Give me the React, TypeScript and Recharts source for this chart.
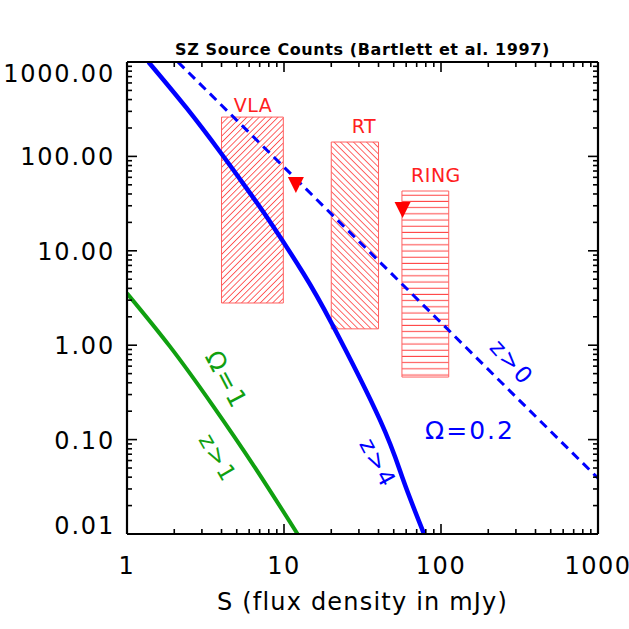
import React from "react";
import {
  ComposedChart,
  Line,
  Scatter,
  XAxis,
  YAxis,
  ReferenceArea,
  ReferenceDot,
} from "recharts";

// ---- data ----
const xMajorTicks = [1, 10, 100, 1000];
const xTickLabels = ["1", "10", "100", "1000"];
const yMajorTicks = [0.01, 0.1, 1, 10, 100, 1000];
const yTickLabels = ["0.01", "0.10", "1.00", "10.00", "100.00", "1000.00"];

// Omega = 0.2, solid curve
const solidX = [1.37, 2.4, 3.91, 5.78, 8.55, 13.27, 20.1, 40.9, 57.5, 78];
const solidY = [1000, 324, 112, 45.9, 18.0, 5.78, 1.71, 0.161, 0.0373, 0.01];
// Omega = 0.2, z>0 dashed
const dashedX = [2.11, 1000];
const dashedY = [1000, 0.039];
// Omega = 1, green
const greenX = [1, 1.88, 3.53, 6.54, 12.2];
const greenY = [3.55, 0.966, 0.228, 0.0505, 0.01];

// survey boxes
const boxNames = ["VLA", "RT", "RING"];
const boxX1 = [4, 20, 56.4];
const boxX2 = [9.9, 40, 112];
const boxY1 = [2.8, 1.49, 0.46];
const boxY2 = [261, 142, 43];

// upper-limit triangles
const triX = [11.9, 56.9];
const triY = [49.8, 27];

// annotations
const noteText = ["VLA", "RT", "RING", "\u03A9=0.2", "\u03A9=1", "z>1", "z>4", "z>0"];
const noteX = [6.35, 32.3, 92.9, 153, 4.3, 3.8, 39.7, 283];
const noteY = [351, 210, 63.6, 0.126, 0.43, 0.064, 0.0565, 0.66];

// ---- derived tables ----
const mk = (xs: number[], ys: number[]) => xs.map((x, i) => ({ x, y: ys[i] }));
const solidData = mk(solidX, solidY);
const dashedData = mk(dashedX, dashedY);
const greenData = mk(greenX, greenY);
const triData = mk(triX, triY);

const minors = (majors: number[]) => {
  const out: number[] = [];
  for (let i = 0; i < majors.length - 1; i++) {
    for (let k = 2; k <= 9; k++) out.push(+(majors[i] * k).toPrecision(6));
  }
  return out;
};
const xTicks = [...xMajorTicks, ...minors(xMajorTicks)].sort((a, b) => a - b);
const yTicks = [...yMajorTicks, ...minors(yMajorTicks)].sort((a, b) => a - b);

const noteStyle: Record<string, { color: string; size: number; rot: number; ls: number }> = {
  VLA: { color: "#ff2020", size: 19, rot: 0, ls: 0.5 },
  RT: { color: "#ff2020", size: 19, rot: 0, ls: 0.5 },
  RING: { color: "#ff2020", size: 19, rot: 0, ls: 0.5 },
  "\u03A9=0.2": { color: "#0000ff", size: 25, rot: 0, ls: 2 },
  "\u03A9=1": { color: "#10a010", size: 25, rot: 62, ls: 2 },
  "z>1": { color: "#10a010", size: 23, rot: 60, ls: 2 },
  "z>4": { color: "#0000ff", size: 23, rot: 62, ls: 2 },
  "z>0": { color: "#0000ff", size: 23, rot: 48, ls: 2 },
};

const FONT = "'DejaVu Sans', 'Liberation Sans', sans-serif";
const W = 629;
const H = 629;

const isMajorX = (v: number) => xMajorTicks.indexOf(v) >= 0;
const isMajorY = (v: number) => yMajorTicks.indexOf(v) >= 0;

const BottomTick = (p: any) => {
  const v = p.payload.value;
  const major = isMajorX(v);
  const idx = xMajorTicks.indexOf(v);
  return (
    <g>
      <line x1={p.x} x2={p.x} y1={p.y} y2={p.y - (major ? 10 : 5)} stroke="#000" strokeWidth={1.6} />
      {major && (
        <text x={p.x} y={p.y + 40} textAnchor="middle" fontFamily={FONT} fontSize={24} letterSpacing={1.5} fill="#000">
          {xTickLabels[idx]}
        </text>
      )}
    </g>
  );
};
const TopTick = (p: any) => {
  const major = isMajorX(p.payload.value);
  return <line x1={p.x} x2={p.x} y1={p.y} y2={p.y + (major ? 10 : 5)} stroke="#000" strokeWidth={1.6} />;
};
const LeftTick = (p: any) => {
  const v = p.payload.value;
  const major = isMajorY(v);
  const idx = yMajorTicks.indexOf(v);
  let dy = 9;
  if (idx === yMajorTicks.length - 1) dy = 20;
  if (idx === 0) dy = 0;
  return (
    <g>
      <line x1={p.x} x2={p.x + (major ? 10 : 5)} y1={p.y} y2={p.y} stroke="#000" strokeWidth={1.6} />
      {major && (
        <text x={p.x - 12} y={p.y + dy} textAnchor="end" fontFamily={FONT} fontSize={24} letterSpacing={1.8} fill="#000">
          {yTickLabels[idx]}
        </text>
      )}
    </g>
  );
};
const RightTick = (p: any) => {
  const major = isMajorY(p.payload.value);
  return <line x1={p.x} x2={p.x - (major ? 10 : 5)} y1={p.y} y2={p.y} stroke="#000" strokeWidth={1.6} />;
};

const Triangle = (p: any) => {
  const { cx, cy } = p;
  return <path d={`M${cx - 8},${cy - 8} L${cx + 8},${cy - 8} L${cx},${cy + 8} Z`} fill="#ff0000" />;
};

const hatchIds = ["szHatchSlash", "szHatchBack", "szHatchHoriz"];

export default function App() {
  return (
    <div style={{ position: "absolute", left: 0, top: 0, width: W, height: H, background: "#fff" }}>
      <svg width={0} height={0} style={{ position: "absolute" }}>
        <defs>
          <pattern id="szHatchSlash" patternUnits="userSpaceOnUse" width={8} height={4.4} patternTransform="rotate(-45)">
            <rect x={0} y={0} width={8} height={4.4} fill="#ffffff" />
            <line x1={0} y1={2.2} x2={8} y2={2.2} style={{ stroke: "#ff5050", strokeWidth: 0.9 }} />
          </pattern>
          <pattern id="szHatchBack" patternUnits="userSpaceOnUse" width={8} height={4.6} patternTransform="rotate(45)">
            <rect x={0} y={0} width={8} height={4.6} fill="#ffffff" />
            <line x1={0} y1={2.3} x2={8} y2={2.3} style={{ stroke: "#ff5050", strokeWidth: 0.9 }} />
          </pattern>
          <pattern id="szHatchHoriz" patternUnits="userSpaceOnUse" width={8} height={6.2}>
            <rect x={0} y={0} width={8} height={6.2} fill="#ffffff" />
            <line x1={0} y1={3} x2={8} y2={3} style={{ stroke: "#ff4040", strokeWidth: 1 }} />
          </pattern>
        </defs>
      </svg>
      <ComposedChart width={W} height={H} margin={{ top: 60, right: 29, left: 7, bottom: 5 }}>
        <XAxis
          xAxisId="b"
          dataKey="x"
          type="number"
          scale="log"
          domain={[1, 1000]}
          ticks={xTicks}
          interval={0}
          allowDataOverflow
          height={90}
          tickSize={0}
          tickMargin={0}
          tick={<BottomTick />}
          axisLine={{ stroke: "#000", strokeWidth: 2.2 }}
          tickLine={false}
          label={{
            content: (props: any) => {
              const vb = props.viewBox;
              return (
                <text x={vb.x + vb.width / 2} y={vb.y + 76} textAnchor="middle" fontFamily={FONT} fontSize={24} letterSpacing={1.2} fill="#000">
                  S (flux density in mJy)
                </text>
              );
            },
          }}
        />
        <XAxis
          xAxisId="t"
          orientation="top"
          dataKey="x"
          type="number"
          scale="log"
          domain={[1, 1000]}
          ticks={xTicks}
          interval={0}
          allowDataOverflow
          height={2}
          tickSize={0}
          tickMargin={0}
          tick={<TopTick />}
          axisLine={{ stroke: "#000", strokeWidth: 2.2 }}
          tickLine={false}
          label={{
            content: (props: any) => {
              const vb = props.viewBox;
              return (
                <text x={vb.x + vb.width / 2} y={55} textAnchor="middle" fontFamily={FONT} fontSize={16} fontWeight="bold" letterSpacing={0.6} fill="#000">
                  SZ Source Counts (Bartlett et al. 1997)
                </text>
              );
            },
          }}
        />
        <YAxis
          yAxisId="l"
          type="number"
          scale="log"
          domain={[0.01, 1000]}
          ticks={yTicks}
          interval={0}
          allowDataOverflow
          width={120}
          tickSize={0}
          tickMargin={0}
          tick={<LeftTick />}
          axisLine={{ stroke: "#000", strokeWidth: 2.2 }}
          tickLine={false}
        />
        <YAxis
          yAxisId="r"
          orientation="right"
          type="number"
          scale="log"
          domain={[0.01, 1000]}
          ticks={yTicks}
          interval={0}
          allowDataOverflow
          width={2}
          tickSize={0}
          tickMargin={0}
          tick={<RightTick />}
          axisLine={{ stroke: "#000", strokeWidth: 2.2 }}
          tickLine={false}
        />
        {boxNames.map((n, i) => (
          <ReferenceArea
            key={`box-${n}`}
            xAxisId="b"
            yAxisId="l"
            x1={boxX1[i]}
            x2={boxX2[i]}
            y1={boxY1[i]}
            y2={boxY2[i]}
            fill={`url(#${hatchIds[i]})`}
            fillOpacity={1}
            stroke="#ff6060"
            strokeWidth={1}
            ifOverflow="visible"
          />
        ))}
        <Line xAxisId="b" yAxisId="l" data={greenData} dataKey="y" type="natural" stroke="#10a010" strokeWidth={4} dot={false} isAnimationActive={false} />
        <Line xAxisId="b" yAxisId="l" data={solidData} dataKey="y" type="natural" stroke="#0000ff" strokeWidth={4.5} dot={false} isAnimationActive={false} />
        <Line xAxisId="b" yAxisId="l" data={dashedData} dataKey="y" type="linear" stroke="#0000ff" strokeWidth={3} strokeDasharray="9 6" dot={false} isAnimationActive={false} />
        <Scatter xAxisId="b" yAxisId="l" data={triData} dataKey="y" shape={<Triangle />} isAnimationActive={false} />
        {noteText.map((t, i) => {
          const st = noteStyle[t];
          return (
            <ReferenceDot
              key={`note-${t}`}
              xAxisId="b"
              yAxisId="l"
              x={noteX[i]}
              y={noteY[i]}
              r={0}
              ifOverflow="visible"
              shape={(p: any) => (
                <text
                  x={p.cx}
                  y={p.cy}
                  textAnchor="middle"
                  dominantBaseline="central"
                  fontFamily={FONT}
                  fontSize={st.size}
                  letterSpacing={st.ls}
                  fill={st.color}
                  transform={`rotate(${st.rot} ${p.cx} ${p.cy})`}
                >
                  {t}
                </text>
              )}
            />
          );
        })}
      </ComposedChart>
    </div>
  );
}
